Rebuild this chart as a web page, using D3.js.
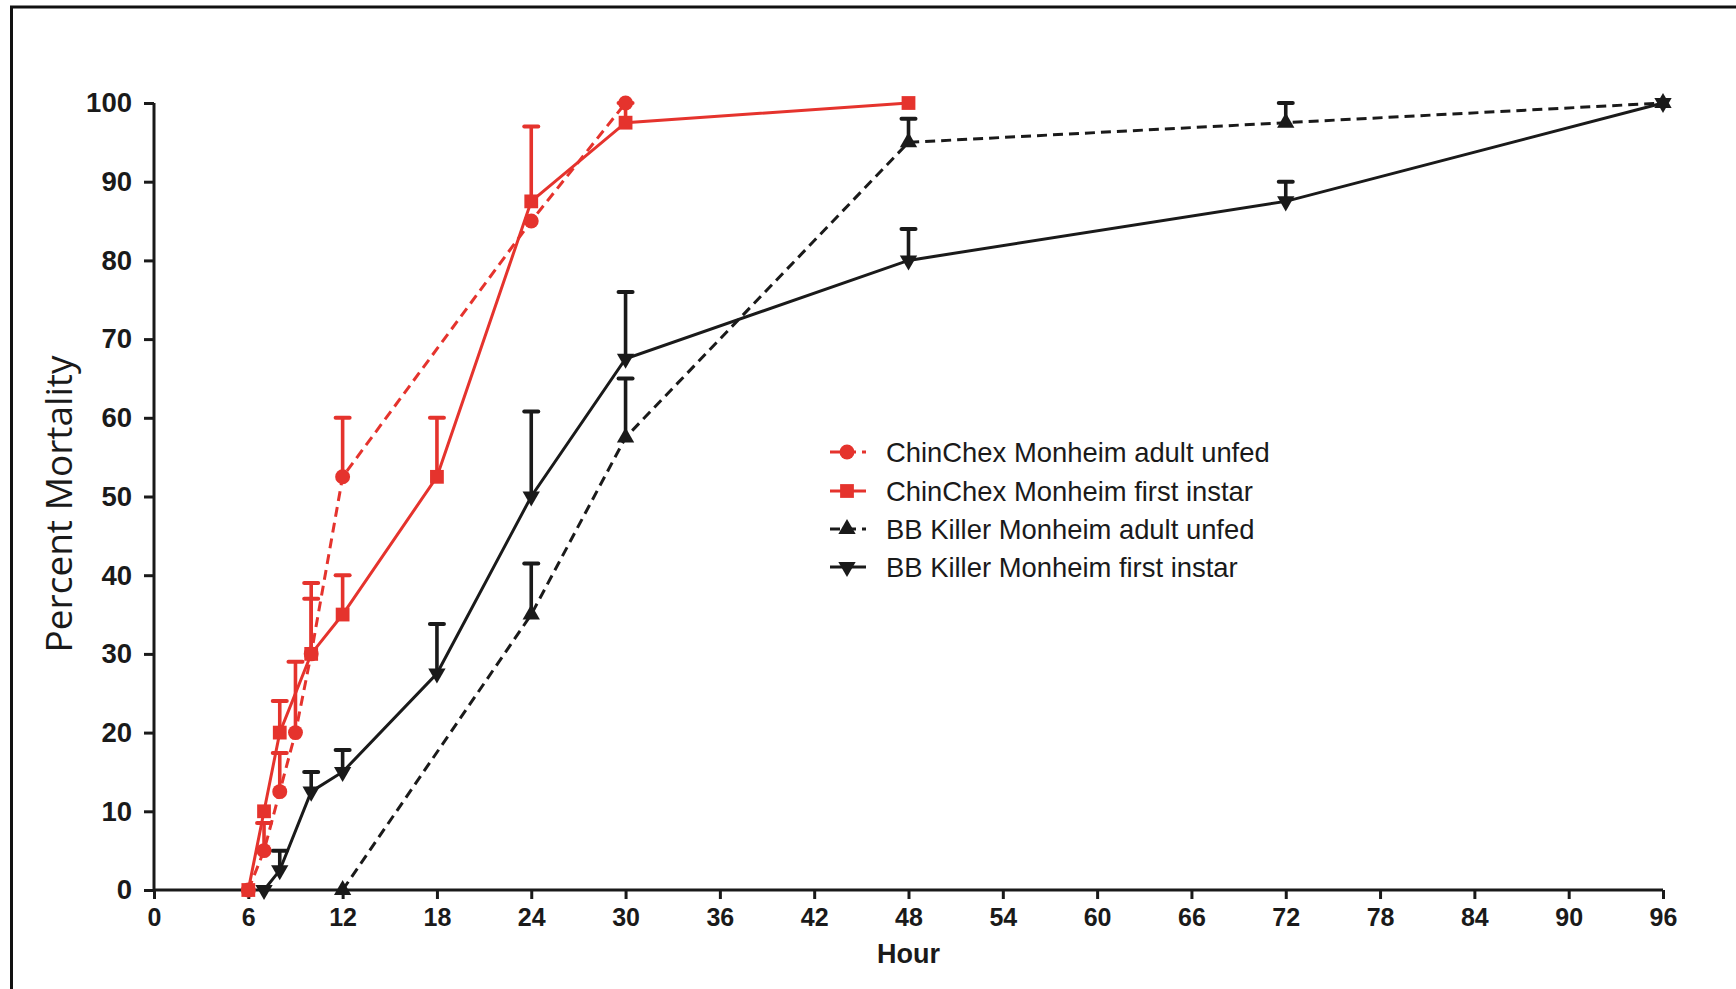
<!DOCTYPE html>
<html>
<head>
<meta charset="utf-8">
<script src="https://cdn.jsdelivr.net/npm/d3@7"></script>
<style>
html,body{margin:0;padding:0;background:#fff;}
svg{display:block;}
</style>
</head>
<body>
<svg id="chart" width="1736" height="989"></svg>
<script>
// ---- Data ----
const xTicks = [0,6,12,18,24,30,36,42,48,54,60,66,72,78,84,90,96];
const yTicks = [0,10,20,30,40,50,60,70,80,90,100];

const seriesNames = [
  "ChinChex Monheim adult unfed",
  "ChinChex Monheim first instar",
  "BB Killer Monheim adult unfed",
  "BB Killer Monheim first instar"
];

// ChinChex adult unfed (red, dashed, circles)
const ccAdultHours = [6,7,8,9,10,12,24,30];
const ccAdultMort  = [0,5,12.5,20,30,52.5,85,100];
const ccAdultUpper = [null,8.5,17.4,29,37,60,null,null];

// ChinChex first instar (red, solid, squares)
const ccInstarHours = [6,7,8,10,12,18,24,30,48];
const ccInstarMort  = [0,10,20,30,35,52.5,87.5,97.5,100];
const ccInstarUpper = [null,null,24,39,40,60,97,100,null];

// BB Killer adult unfed (black, dashed, up triangles)
const bbAdultHours = [12,24,30,48,72,96];
const bbAdultMort  = [0,35,57.5,95,97.5,100];
const bbAdultUpper = [null,41.5,65,98,100,null];

// BB Killer first instar (black, solid, down triangles)
const bbInstarHours = [7,8,10,12,18,24,30,48,72,96];
const bbInstarMort  = [0,2.5,12.5,15,27.5,50,67.5,80,87.5,100];
const bbInstarUpper = [null,5,15,17.8,33.8,60.8,76,84,90,null];

// ---- Styles ----
const RED = "#e5332d", BLACK = "#1a1a1a";
const series = [
  {name: seriesNames[0], hours: ccAdultHours, vals: ccAdultMort, upper: ccAdultUpper, color: RED, dash: "10,6", sym: d3.symbolCircle, size: 175, rot: 0},
  {name: seriesNames[1], hours: ccInstarHours, vals: ccInstarMort, upper: ccInstarUpper, color: RED, dash: null, sym: d3.symbolSquare, size: 190, rot: 0},
  {name: seriesNames[2], hours: bbAdultHours, vals: bbAdultMort, upper: bbAdultUpper, color: BLACK, dash: "10,6", sym: d3.symbolTriangle, size: 130, rot: 0},
  {name: seriesNames[3], hours: bbInstarHours, vals: bbInstarMort, upper: bbInstarUpper, color: BLACK, dash: null, sym: d3.symbolTriangle, size: 130, rot: 180}
];

const svg = d3.select("#chart");

// Border
svg.append("path")
  .attr("d", "M11.5,1000 L11.5,7 L1750,7")
  .attr("fill","none").attr("stroke","#111").attr("stroke-width",3);

const x = d3.scaleLinear().domain([0,96]).range([154,1663]);
const y = d3.scaleLinear().domain([0,100]).range([890,103]);

// Axes
const xAxis = svg.append("g").attr("transform","translate(0,890)")
  .call(d3.axisBottom(x).tickValues(xTicks).tickSize(9).tickPadding(9).tickFormat(d3.format("d")));
const yAxis = svg.append("g").attr("transform","translate(154,0)")
  .call(d3.axisLeft(y).tickValues(yTicks).tickSize(10).tickPadding(12).tickFormat(d3.format("d")));

[xAxis,yAxis].forEach(g=>{
  g.select(".domain").attr("stroke",BLACK).attr("stroke-width",3);
  g.selectAll(".tick line").attr("stroke",BLACK).attr("stroke-width",3);
  g.selectAll(".tick text").attr("fill",BLACK)
    .style("font-family","'Liberation Sans', Arial, sans-serif")
    .style("font-weight","bold");
});
xAxis.selectAll(".tick text").style("font-size","25px");
yAxis.selectAll(".tick text").style("font-size","27.5px");
xAxis.selectAll(".domain").attr("d", `M${x(0)},0H${x(96)}`);
yAxis.selectAll(".domain").attr("d", `M0,${y(0)}V${y(100)}`);

// Axis titles
svg.append("text")
  .attr("x", x(48)).attr("y", 963)
  .attr("text-anchor","middle")
  .style("font-family","'Liberation Sans', Arial, sans-serif")
  .style("font-weight","bold").style("font-size","27px").attr("fill",BLACK)
  .text("Hour");

svg.append("text")
  .attr("transform","translate(72,504) rotate(-90)")
  .attr("text-anchor","middle")
  .style("font-family","'Open Sans', sans-serif")
  .style("font-size","37px").attr("fill",BLACK)
  .text("Percent Mortality");

// Lines
const line = d3.line().x(d=>x(d[0])).y(d=>y(d[1]));
const plot = svg.append("g");
series.forEach(s=>{
  const pts = s.hours.map((h,i)=>[h,s.vals[i]]);
  plot.append("path").datum(pts)
    .attr("d", line).attr("fill","none")
    .attr("stroke", s.color).attr("stroke-width", 3)
    .attr("stroke-dasharray", s.dash);
});

// Error bars
series.forEach(s=>{
  s.hours.forEach((h,i)=>{
    const u = s.upper[i];
    if(u==null) return;
    const g = plot.append("g");
    g.append("line").attr("x1",x(h)).attr("x2",x(h))
      .attr("y1",y(s.vals[i])).attr("y2",y(u))
      .attr("stroke",s.color).attr("stroke-width",3.6);
    g.append("line").attr("x1",x(h)-7).attr("x2",x(h)+7)
      .attr("y1",y(u)).attr("y2",y(u))
      .attr("stroke",s.color).attr("stroke-width",4).attr("stroke-linecap","round");
  });
});

// Markers
series.forEach(s=>{
  const sym = d3.symbol().type(s.sym).size(s.size);
  s.hours.forEach((h,i)=>{
    plot.append("path").attr("d", sym())
      .attr("transform", `translate(${x(h)},${y(s.vals[i])}) rotate(${s.rot})`)
      .attr("fill", s.color);
  });
});

// Legend
const legY = [452,491,529,567];
const leg = svg.append("g");
series.forEach((s,i)=>{
  const yy = legY[i];
  leg.append("line").attr("x1",830).attr("x2",866).attr("y1",yy).attr("y2",yy)
    .attr("stroke",s.color).attr("stroke-width",3)
    .attr("stroke-dasharray", s.dash ? "10,6" : null);
  leg.append("path").attr("d", d3.symbol().type(s.sym).size(s.size)())
    .attr("transform", `translate(847,${yy}) rotate(${s.rot})`)
    .attr("fill", s.color);
  leg.append("text").attr("x",886).attr("y",yy+9.5)
    .style("font-family","'Liberation Sans', Arial, sans-serif")
    .style("font-size","27.4px").attr("fill",BLACK)
    .text(s.name);
});
</script>
</body>
</html>
